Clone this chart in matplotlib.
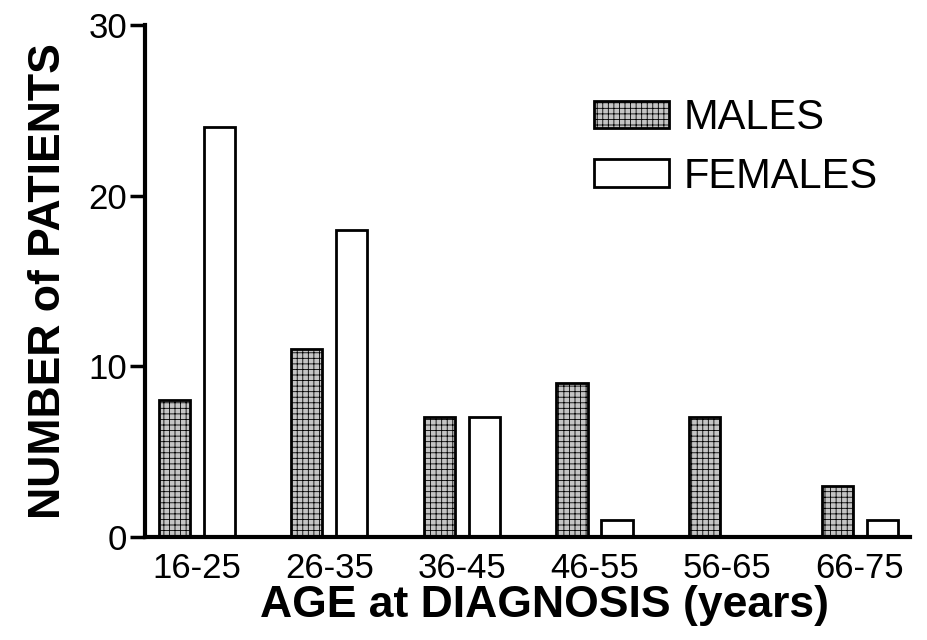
import matplotlib
matplotlib.use("Agg")
import matplotlib.pyplot as plt
import numpy as np

plt.rcParams['font.family'] = ['Liberation Sans', 'DejaVu Sans']
plt.rcParams['hatch.linewidth'] = 0.6
plt.rcParams['hatch.color'] = '#444444'

age_groups = ["16-25", "26-35", "36-45", "46-55", "56-65", "66-75"]
males = [8, 11, 7, 9, 7, 3]
females = [24, 18, 7, 1, 0, 1]

x = np.arange(len(age_groups))
w = 0.235
off = 0.17

fig = plt.figure(figsize=(9.27, 6.4), dpi=100)
ax = fig.add_axes([0.1564, 0.161, 0.8253, 0.8])

ax.bar(x - off, males, w, facecolor='#c4c4c4', edgecolor='black', linewidth=2,
       hatch='+++', label='MALES')
fem_x = [xi + off for xi, v in zip(x, females) if v > 0]
fem_v = [v for v in females if v > 0]
ax.bar(fem_x, fem_v, w, facecolor='white', edgecolor='black', linewidth=2,
       label='FEMALES')

ax.set_xlim(-0.39, 5.38)
ax.set_ylim(0, 30)
ax.set_yticks([0, 10, 20, 30])
ax.set_xticks(x)
ax.set_xticklabels(age_groups)
ax.tick_params(axis='x', length=0, labelsize=25, pad=11)
ax.tick_params(axis='y', length=11, width=2.5, labelsize=25, pad=2)

for s in ['top', 'right']:
    ax.spines[s].set_visible(False)
for s in ['left', 'bottom']:
    ax.spines[s].set_linewidth(3)

ax.set_xlabel("AGE at DIAGNOSIS (years)", fontsize=32, fontweight='bold', labelpad=0)
ax.xaxis.label.set_x(0.522)
ax.set_ylabel("NUMBER of PATIENTS", fontsize=32, fontweight='bold', labelpad=14)

ax.legend(loc='upper right', bbox_to_anchor=(0.98, 0.89), frameon=False,
          fontsize=30, handlelength=1.8, handleheight=0.63, handletextpad=0.35,
          labelspacing=0.45, borderaxespad=0)

fig.savefig("out.png", dpi=100)
